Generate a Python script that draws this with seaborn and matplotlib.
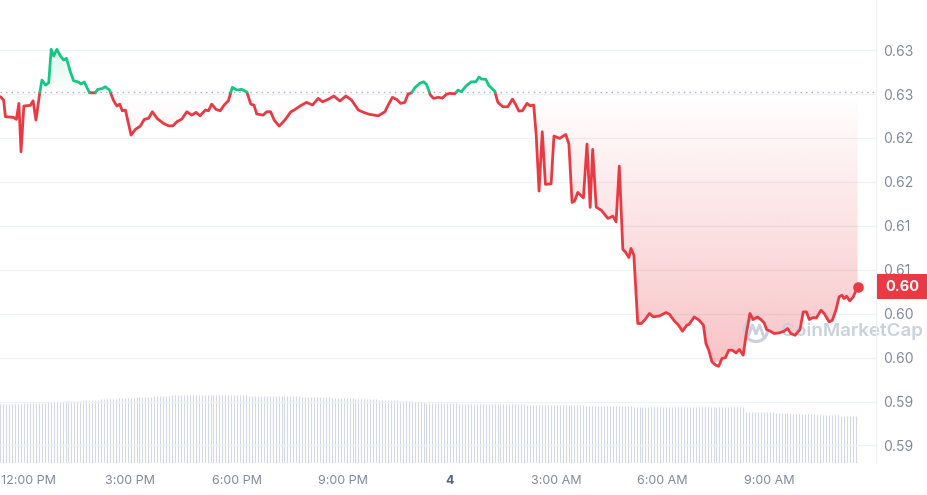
import numpy as np
import pandas as pd
import seaborn as sns
import matplotlib.pyplot as plt
from matplotlib.colors import to_rgb
from matplotlib.patches import Rectangle, Circle
from matplotlib.ticker import FuncFormatter
from matplotlib.transforms import blended_transform_factory, ScaledTranslation

# price, one point per reading (hours counted from midnight of day 3)
hours = [
    11.35, 11.44, 11.49, 11.72, 11.80, 11.87, 11.93, 12.01, 12.19, 12.27,
    12.35, 12.46, 12.52, 12.62, 12.71, 12.78, 12.85, 12.94, 13.04, 13.13,
    13.21, 13.32, 13.41, 13.55, 13.62, 13.71, 13.86, 14.02, 14.09, 14.21,
    14.30, 14.42, 14.54, 14.63, 14.71, 14.78, 14.87, 15.03, 15.15, 15.29,
    15.40, 15.52, 15.63, 15.76, 15.94, 16.08, 16.21, 16.32, 16.46, 16.60,
    16.74, 16.86, 16.97, 17.12, 17.21, 17.30, 17.42, 17.54, 17.65, 17.77,
    17.88, 18.01, 18.15, 18.29, 18.40, 18.49, 18.57, 18.75, 18.85, 18.96,
    19.06, 19.20, 19.36, 19.53, 19.62, 19.79, 19.97, 20.14, 20.30, 20.42,
    20.58, 20.74, 20.91, 21.08, 21.24, 21.43, 21.61, 21.75, 21.99, 22.18,
    22.27, 22.39, 22.51, 22.62, 22.74, 22.83, 22.93, 23.02, 23.16, 23.27,
    23.35, 23.46, 23.55, 23.68, 23.80, 23.91, 24.00, 24.15, 24.24, 24.33,
    24.47, 24.61, 24.74, 24.83, 24.90, 25.02, 25.11, 25.27, 25.36, 25.50,
    25.64, 25.77, 25.86, 25.95, 26.05, 26.18, 26.27, 26.37, 26.44, 26.52,
    26.61, 26.70, 26.86, 26.94, 27.10, 27.27, 27.36, 27.45, 27.52, 27.61,
    27.77, 27.87, 27.96, 28.03, 28.13, 28.27, 28.46, 28.60, 28.69, 28.78,
    28.88, 28.95, 29.05, 29.11, 29.19, 29.30, 29.40, 29.49, 29.63, 29.74,
    29.91, 30.10, 30.19, 30.33, 30.45, 30.56, 30.68, 30.75, 30.89, 31.03,
    31.15, 31.22, 31.30, 31.39, 31.50, 31.58, 31.67, 31.77, 31.86, 31.96,
    32.07, 32.16, 32.27, 32.35, 32.46, 32.55, 32.67, 32.77, 32.86, 32.93,
    33.02, 33.14, 33.28, 33.42, 33.52, 33.61, 33.73, 33.87, 33.96, 34.05,
    34.13, 34.24, 34.33, 34.46, 34.55, 34.69, 34.78, 34.88, 34.97, 35.05,
    35.11, 35.18, 35.27, 35.37, 35.49,
]
price = [
    0.62969, 0.62931, 0.62741, 0.62734, 0.62711, 0.62893, 0.62342, 0.62863, 0.62871, 0.62923,
    0.62703, 0.63019, 0.63159, 0.63102, 0.63128, 0.63509, 0.63432, 0.63509, 0.63432, 0.63387,
    0.63406, 0.63253, 0.63151, 0.63136, 0.63113, 0.63136, 0.63014, 0.63014, 0.63053, 0.63060,
    0.63083, 0.63045, 0.62923, 0.62863, 0.62885, 0.62809, 0.62817, 0.62532, 0.62597, 0.62635,
    0.62711, 0.62723, 0.62798, 0.62723, 0.62666, 0.62638, 0.62638, 0.62684, 0.62715, 0.62798,
    0.62760, 0.62791, 0.62752, 0.62817, 0.62809, 0.62885, 0.62825, 0.62809, 0.62874, 0.62923,
    0.63076, 0.63045, 0.63053, 0.63022, 0.62885, 0.62874, 0.62772, 0.62760, 0.62798, 0.62798,
    0.62703, 0.62635, 0.62703, 0.62798, 0.62817, 0.62863, 0.62905, 0.62874, 0.62950, 0.62912,
    0.62939, 0.62977, 0.62920, 0.62977, 0.62931, 0.62817, 0.62786, 0.62768, 0.62752, 0.62798,
    0.62874, 0.62962, 0.62939, 0.62893, 0.62905, 0.62999, 0.63014, 0.63071, 0.63121, 0.63139,
    0.63110, 0.62988, 0.62950, 0.62962, 0.62954, 0.62996, 0.63007, 0.63003, 0.63045, 0.63026,
    0.63094, 0.63139, 0.63139, 0.63193, 0.63170, 0.63167, 0.63094, 0.63034, 0.62905, 0.62855,
    0.62855, 0.62942, 0.62882, 0.62806, 0.62809, 0.62893, 0.62866, 0.62874, 0.62532, 0.61895,
    0.62570, 0.61971, 0.61978, 0.62521, 0.62495, 0.62540, 0.62433, 0.61766, 0.61781, 0.61880,
    0.61818, 0.62430, 0.61709, 0.62370, 0.61712, 0.61678, 0.61584, 0.61610, 0.61545, 0.62179,
    0.61230, 0.61203, 0.61139, 0.61242, 0.61166, 0.60388, 0.60388, 0.60425, 0.60502, 0.60463,
    0.60474, 0.60513, 0.60494, 0.60417, 0.60368, 0.60300, 0.60368, 0.60380, 0.60463, 0.60425,
    0.60368, 0.60160, 0.60084, 0.59950, 0.59913, 0.59901, 0.59989, 0.60000, 0.60084, 0.60084,
    0.60053, 0.60092, 0.60027, 0.60254, 0.60502, 0.60433, 0.60463, 0.60433, 0.60394, 0.60319,
    0.60303, 0.60274, 0.60281, 0.60300, 0.60331, 0.60274, 0.60254, 0.60319, 0.60520, 0.60520,
    0.60433, 0.60456, 0.60451, 0.60539, 0.60502, 0.60406, 0.60425, 0.60539, 0.60691, 0.60710,
    0.60672, 0.60699, 0.60645, 0.60691, 0.60805,
]
# 24h volume, one bar every 5 minutes (arbitrary units)
vol_start = 11.35
volume = [
    5.90, 5.90, 5.91, 5.92, 5.93, 5.94, 5.94, 5.95, 5.96, 5.97, 5.98, 5.99,
    6.00, 6.02, 6.03, 6.05, 6.07, 6.08, 6.10, 6.12, 6.13, 6.15, 6.17, 6.18,
    6.20, 6.22, 6.23, 6.25, 6.27, 6.28, 6.30, 6.32, 6.33, 6.35, 6.37, 6.38,
    6.40, 6.42, 6.43, 6.45, 6.47, 6.48, 6.50, 6.52, 6.53, 6.55, 6.57, 6.58,
    6.60, 6.62, 6.63, 6.65, 6.67, 6.68, 6.70, 6.72, 6.73, 6.75, 6.77, 6.78,
    6.80, 6.80, 6.81, 6.81, 6.82, 6.82, 6.83, 6.83, 6.84, 6.84, 6.85, 6.85,
    6.85, 6.84, 6.83, 6.83, 6.82, 6.81, 6.80, 6.79, 6.78, 6.77, 6.76, 6.76,
    6.75, 6.75, 6.74, 6.74, 6.73, 6.73, 6.72, 6.72, 6.71, 6.71, 6.70, 6.70,
    6.70, 6.69, 6.68, 6.67, 6.67, 6.66, 6.65, 6.64, 6.63, 6.63, 6.62, 6.61,
    6.60, 6.59, 6.58, 6.56, 6.55, 6.54, 6.53, 6.51, 6.50, 6.49, 6.48, 6.46,
    6.45, 6.44, 6.42, 6.41, 6.40, 6.39, 6.37, 6.36, 6.35, 6.34, 6.32, 6.31,
    6.30, 6.28, 6.26, 6.24, 6.22, 6.20, 6.18, 6.16, 6.14, 6.12, 6.10, 6.07,
    6.05, 6.04, 6.03, 6.02, 6.01, 6.00, 6.00, 5.99, 5.98, 5.97, 5.96, 5.95,
    5.95, 5.95, 5.94, 5.94, 5.93, 5.93, 5.92, 5.92, 5.91, 5.91, 5.90, 5.90,
    5.90, 5.90, 5.89, 5.89, 5.88, 5.88, 5.87, 5.87, 5.86, 5.86, 5.85, 5.85,
    5.85, 5.85, 5.84, 5.84, 5.83, 5.83, 5.82, 5.82, 5.81, 5.81, 5.80, 5.80,
    5.80, 5.79, 5.78, 5.77, 5.77, 5.76, 5.75, 5.74, 5.73, 5.73, 5.72, 5.71,
    5.70, 5.70, 5.69, 5.69, 5.68, 5.68, 5.67, 5.67, 5.66, 5.66, 5.65, 5.65,
    5.65, 5.65, 5.64, 5.64, 5.63, 5.63, 5.62, 5.62, 5.61, 5.61, 5.60, 5.60,
    5.60, 5.60, 5.60, 5.60, 5.60, 5.60, 5.60, 5.60, 5.60, 5.60, 5.60, 5.60,
    5.60, 5.60, 5.60, 5.60, 5.60, 5.60, 5.60, 5.60, 5.60, 5.60, 5.60, 5.60,
    5.15, 5.14, 5.13, 5.12, 5.11, 5.10, 5.09, 5.08, 5.07, 5.06, 5.05, 5.04,
    5.00, 4.99, 4.97, 4.96, 4.95, 4.94, 4.92, 4.91, 4.90, 4.89, 4.87, 4.86,
    4.85, 4.84, 4.83, 4.81, 4.80, 4.79, 4.78, 4.76, 4.75, 4.74, 4.73, 4.71,
    4.70, 4.70,
]
base_price = 0.6302  # open price, dotted line
y_ticks = [0.590, 0.595, 0.600, 0.605, 0.610, 0.615, 0.620, 0.625, 0.630, 0.635]
x_ticks = [12, 15, 18, 21, 24, 27, 30, 33]
x_labels = ["12:00 PM", "3:00 PM", "6:00 PM", "9:00 PM", "4", "3:00 AM", "6:00 AM", "9:00 AM"]

GREEN = "#16c784"
RED = "#ea3943"
GREY = "#808a9d"

sns.set_theme(style="white")
plt.rcParams["font.family"] = ["Inter", "DejaVu Sans"]

fig = plt.figure(figsize=(9.28, 4.95), dpi=100)
rect = [0, 1 - 463 / 495, 876 / 928, 463 / 495]
ax_vol = fig.add_axes(rect)
ax = fig.add_axes(rect)
ax.patch.set_visible(False)

x_lo, x_hi = 11.338, 36.01
y_lo, y_hi = 0.5880, 0.6407

# volume bars at the bottom
vol_t = vol_start + np.arange(len(volume)) / 12
ax_vol.vlines(vol_t, 0, volume, color="#d3d9e4", linewidth=0.8)
ax_vol.set_xlim(x_lo, x_hi)
ax_vol.set_ylim(0, 46.3)
ax_vol.axis("off")

# insert base crossings so the line can switch colour cleanly
t = np.array(hours)
p = np.array(price)
tt, pp = [t[0]], [p[0]]
for i in range(1, len(t)):
    a, b = p[i - 1] - base_price, p[i] - base_price
    if a * b < 0:
        f = a / (a - b)
        tt.append(t[i - 1] + f * (t[i] - t[i - 1]))
        pp.append(base_price)
    tt.append(t[i])
    pp.append(p[i])
tt, pp = np.array(tt), np.array(pp)

rows = []
run, prev = 0, None
for k in range(len(tt) - 1):
    side = "up" if (pp[k] + pp[k + 1]) / 2 > base_price else "down"
    if side != prev:
        run += 1
        rows.append((run, side, tt[k], pp[k]))
        prev = side
    rows.append((run, side, tt[k + 1], pp[k + 1]))
df = pd.DataFrame(rows, columns=["run", "side", "t", "p"])


def gradient_fill(edge, color, a_near, a_far, y_near, y_far):
    poly = ax.fill_between(tt, base_price, edge, facecolor="none", edgecolor="none")
    n = 256
    img = np.zeros((n, 1, 4))
    img[..., :3] = to_rgb(color)
    lo, hi = min(y_near, y_far), max(y_near, y_far)
    ys = np.linspace(lo, hi, n)
    alpha = a_near + (a_far - a_near) * (ys - y_near) / (y_far - y_near)
    img[:, 0, 3] = alpha
    im = ax.imshow(img, extent=[x_lo, x_hi, lo, hi], origin="lower",
                   aspect="auto", interpolation="bilinear", zorder=1)
    im.set_clip_path(poly.get_paths()[0], transform=ax.transData)


gradient_fill(np.maximum(pp, base_price), GREEN, 0.0, 0.17, base_price, 0.6352)
gradient_fill(np.minimum(pp, base_price), RED, 0.0, 0.30, base_price, 0.5995)

ax.axhline(base_price, color="#a7b1c2", linestyle=(0, (1, 3)), linewidth=1.0, zorder=1.5)

sns.lineplot(data=df, x="t", y="p", hue="side", units="run", estimator=None, sort=False,
             palette={"up": GREEN, "down": RED}, linewidth=2.0, legend=False, ax=ax, zorder=3)
ax.scatter([t[-1]], [p[-1]], s=58, color=RED, zorder=4, linewidths=0)

ax.set_xlim(x_lo, x_hi)
ax.set_ylim(y_lo, y_hi)
ax.set_xlabel("")
ax.set_ylabel("")

ax.set_yticks(y_ticks)
ax.yaxis.set_major_formatter(FuncFormatter(lambda v, pos: f"{np.floor(v * 100 + 1e-6) / 100:.2f}"))
ax.yaxis.tick_right()
ax.grid(axis="y", color="#eff2f5", linewidth=0.9)
ax.grid(axis="x", visible=False)
ax.tick_params(axis="y", length=0, pad=5, labelsize=10, labelcolor=GREY)
ax.set_xticks(x_ticks)
ax.set_xticklabels(x_labels)
ax.tick_params(axis="x", length=0, pad=9, labelsize=9, labelcolor=GREY)
for name in ["top", "left", "bottom"]:
    ax.spines[name].set_visible(False)
ax.spines["right"].set_color("#eff2f5")
ax.spines["right"].set_linewidth(0.9)

labels = ax.get_xticklabels()
labels[0].set_transform(labels[0].get_transform() + ScaledTranslation(0.05, 0, fig.dpi_scale_trans))
labels[4].set_fontweight("bold")
labels[4].set_color("#58667e")

# current price tag
last = p[-1]
tr = blended_transform_factory(fig.transFigure, ax.transData)
tag_h = 0.00285
fig.add_artist(Rectangle((877 / 928, last - tag_h / 2), 50 / 928, tag_h, transform=tr,
                         facecolor=RED, edgecolor="none", zorder=5))
fig.text(902 / 928, last, f"{np.floor(last * 100) / 100:.2f}", transform=tr, ha="center",
         va="center", color="white", fontsize=10.5, fontweight="bold", zorder=6)

# watermark
wm = "#c9d1de"
ax.text(781 / 928, 1 - 331 / 495, "CoinMarketCap", transform=fig.transFigure, fontsize=13.5,
        color=wm, fontweight="semibold", ha="left", va="center", zorder=2, clip_on=False)
ring = Circle((7.56, 4.95 - 3.30), 0.115, transform=fig.dpi_scale_trans, fill=False,
              edgecolor=wm, linewidth=2.3, zorder=2)
ring.set_clip_on(False)
ax.add_artist(ring)
ax.plot([7.485, 7.525, 7.56, 7.595, 7.635], [1.59, 1.70, 1.61, 1.70, 1.59],
        transform=fig.dpi_scale_trans, color=wm, linewidth=2.0, zorder=2, clip_on=False)

fig.savefig("out.png", dpi=100)
